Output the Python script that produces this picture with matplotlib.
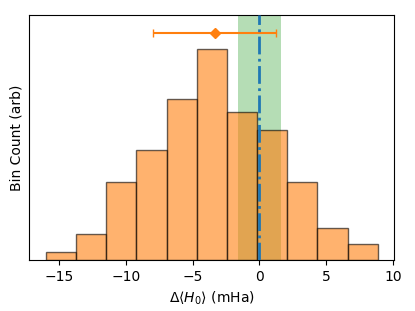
import numpy as np
import matplotlib
matplotlib.use("Agg")
import matplotlib.pyplot as plt

# histogram (arbitrary units)
bin_edges = np.linspace(-16.0, 8.86, 12)
counts = [1.0, 3.3, 9.9, 14.0, 20.6, 27.0, 18.85, 16.55, 9.9, 4.05, 2.0]

# mean estimate with its error bar, and the reference band
est_x = -3.35
est_err = 4.6
est_y = 28.95
ref_x = 0.0
ref_band = 1.63

fig = plt.figure(figsize=(4.15, 3.11), dpi=100)
ax = fig.add_subplot(111)
fig.subplots_adjust(left=0.0706, right=0.950, bottom=0.164, top=0.952)

ax.axvspan(ref_x - ref_band, ref_x + ref_band, color='C2', alpha=0.35, lw=0)
widths = np.diff(bin_edges)
ax.bar(bin_edges[:-1], counts, width=widths, align='edge', color='C1',
       edgecolor='k', linewidth=1.0, alpha=0.6)
ax.axvline(ref_x, color='C0', ls='-.', lw=2, zorder=3)
ax.errorbar(est_x, est_y, xerr=est_err, fmt='D', color='C1', capsize=3,
            markersize=5)

ax.set_xlim(-17.24, 10.1)
ax.set_ylim(0, 31.3)
ax.set_yticks([])
ax.set_xticks([-15, -10, -5, 0, 5, 10])
ax.set_xlabel(r'$\Delta\langle H_0\rangle$ (mHa)')
ax.set_ylabel('Bin Count (arb)')

plt.savefig("out.png", dpi=100)
